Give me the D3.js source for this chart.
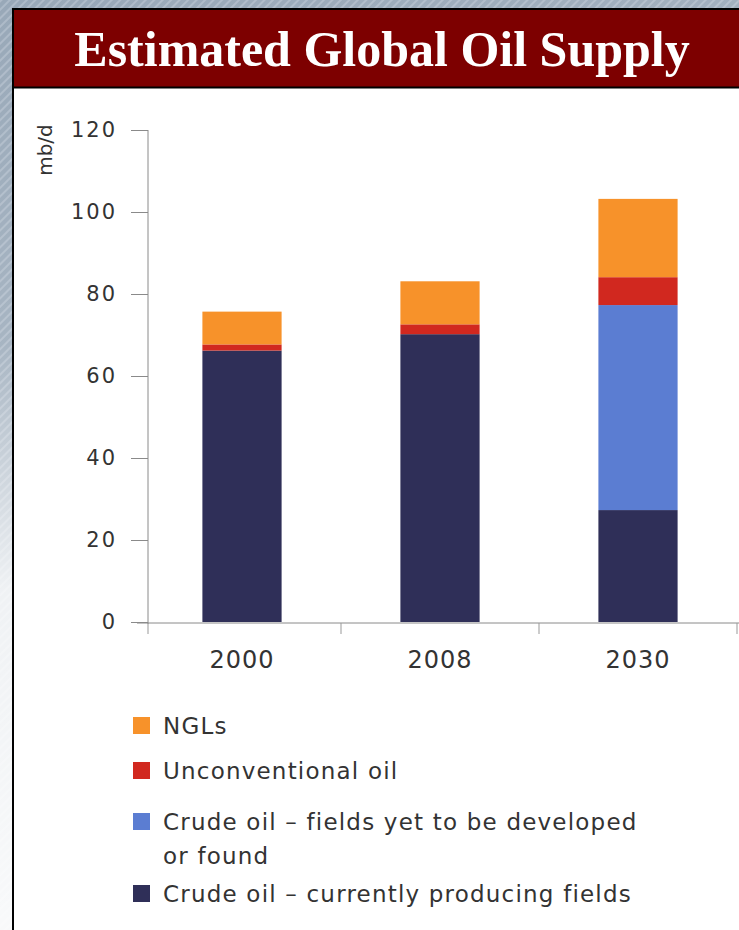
<!DOCTYPE html>
<html>
<head>
<meta charset="utf-8">
<script src="https://cdn.jsdelivr.net/npm/d3@7"></script>
<style>
  html, body { margin: 0; padding: 0; background: #fff; }
  svg { display: block; }
</style>
</head>
<body>
<div id="chart"></div>
<script>
// Chart data (mb/d)
const years = ['2000', '2008', '2030'];
const seriesNames = ['Crude oil \u2013 currently producing fields', 'Crude oil \u2013 fields yet to be developed or found', 'Unconventional oil', 'NGLs'];
const currentFields = [66.2, 70.2, 27.3];
const futureFields = [0, 0, 50.0];
const unconventional = [1.5, 2.4, 6.8];
const ngls = [8.0, 10.5, 19.1];
const yTicks = [0, 20, 40, 60, 80, 100, 120];
const colors = ['#2f2f58', '#5b7dd2', '#d1281f', '#f7922a'];

// legend order from top to bottom
const legendItems = [
    { key: 3, lines: ['NGLs'] },
    { key: 2, lines: ['Unconventional oil'] },
    { key: 1, lines: ['Crude oil \u2013 fields yet to be developed', 'or found'] },
    { key: 0, lines: ['Crude oil \u2013 currently producing fields'] },
];

const W = 739, H = 930;
const sans = '"DejaVu Sans", sans-serif';

const svg = d3.select('#chart').append('svg')
    .attr('width', W)
    .attr('height', H);

// background: striped steel blue fading out
const defs = svg.append('defs');
const pat = defs.append('pattern')
    .attr('id', 'stripes')
    .attr('width', 6).attr('height', 6)
    .attr('patternUnits', 'userSpaceOnUse')
    .attr('patternTransform', 'rotate(45)');
pat.append('rect').attr('width', 6).attr('height', 6).attr('fill', '#98a8b8');
pat.append('rect').attr('width', 2).attr('height', 6).attr('fill', '#adbac8');

const grad = defs.append('linearGradient')
    .attr('id', 'fade')
    .attr('x1', 0).attr('y1', 0).attr('x2', 0.25).attr('y2', 1);
grad.append('stop').attr('offset', '0%').attr('stop-color', '#fff').attr('stop-opacity', 0);
grad.append('stop').attr('offset', '35%').attr('stop-color', '#fff').attr('stop-opacity', 0.15);
grad.append('stop').attr('offset', '60%').attr('stop-color', '#fff').attr('stop-opacity', 0.85);
grad.append('stop').attr('offset', '100%').attr('stop-color', '#fff').attr('stop-opacity', 0.95);

svg.append('rect').attr('width', W).attr('height', H).attr('fill', 'url(#stripes)');
svg.append('rect').attr('width', W).attr('height', H).attr('fill', 'url(#fade)');

// panel with black frame
svg.append('rect')
    .attr('x', 13).attr('y', 9)
    .attr('width', W).attr('height', H)
    .attr('fill', '#fff')
    .attr('stroke', '#000')
    .attr('stroke-width', 2);

// title bar
svg.append('rect')
    .attr('x', 14).attr('y', 10)
    .attr('width', W).attr('height', 77)
    .attr('fill', '#7d0000');
svg.append('line')
    .attr('x1', 14).attr('x2', W)
    .attr('y1', 87.5).attr('y2', 87.5)
    .attr('stroke', '#000').attr('stroke-width', 2);

svg.append('text')
    .attr('x', 382).attr('y', 66)
    .attr('text-anchor', 'middle')
    .attr('font-family', '"Liberation Serif", "DejaVu Serif", serif')
    .attr('font-weight', 'bold')
    .attr('font-size', 50)
    .attr('fill', '#fff')
    .text('Estimated Global Oil Supply');

// scales
const x = d3.scaleBand()
    .domain(years)
    .range([143, 737])
    .paddingInner(0.6)
    .paddingOuter(0.3);

const y = d3.scaleLinear()
    .domain([0, 120])
    .range([622, 130]);

// stacked data
const table = years.map((yr, i) => ({
    year: yr,
    s0: currentFields[i],
    s1: futureFields[i],
    s2: unconventional[i],
    s3: ngls[i],
}));
const stack = d3.stack().keys(['s0', 's1', 's2', 's3']);
const layers = stack(table);

const g = svg.append('g');

g.selectAll('g.layer')
    .data(layers)
    .enter().append('g')
    .attr('class', 'layer')
    .attr('fill', (d, i) => colors[i])
    .selectAll('rect')
    .data(d => d)
    .enter().append('rect')
    .attr('x', d => x(d.data.year))
    .attr('width', x.bandwidth())
    .attr('y', d => y(d[1]))
    .attr('height', d => y(d[0]) - y(d[1]));

// y axis
const yAxis = svg.append('g')
    .attr('transform', 'translate(148,0)')
    .call(d3.axisLeft(y).tickValues(yTicks).tickSize(17).tickPadding(14));
yAxis.select('.domain').attr('stroke', '#8a8a8a').attr('d', `M0,${y(120)}V${y(0) + 2}`);
yAxis.selectAll('.tick line').attr('stroke', '#8a8a8a');
yAxis.selectAll('.tick text')
    .attr('font-family', sans)
    .attr('font-size', 21)
    .attr('letter-spacing', 2)
    .attr('fill', '#333');

svg.append('text')
    .attr('transform', 'translate(52,150) rotate(-90)')
    .attr('text-anchor', 'middle')
    .attr('font-family', sans)
    .attr('font-size', 20)
    .attr('fill', '#333')
    .text('mb/d');

// x axis: boundary ticks between the categories
const xAxisY = y(0) + 1;
svg.append('line')
    .attr('x1', 137).attr('x2', W)
    .attr('y1', xAxisY).attr('y2', xAxisY)
    .attr('stroke', '#8a8a8a');

const bounds = [148].concat(years.map(yr => x(yr) + x.bandwidth() + x.step() * x.paddingInner() / 2));
svg.selectAll('line.xtick')
    .data(bounds)
    .enter().append('line')
    .attr('class', 'xtick')
    .attr('x1', d => d).attr('x2', d => d)
    .attr('y1', xAxisY).attr('y2', xAxisY + 11)
    .attr('stroke', '#999');

svg.selectAll('text.xlabel')
    .data(years)
    .enter().append('text')
    .attr('class', 'xlabel')
    .attr('x', d => x(d) + x.bandwidth() / 2)
    .attr('y', 668)
    .attr('text-anchor', 'middle')
    .attr('font-family', sans)
    .attr('font-size', 24)
    .attr('letter-spacing', 1)
    .attr('fill', '#333')
    .text(d => d);

// legend
const legendRows = [725, 770, 821, 893];
const legend = svg.append('g');
legendItems.forEach((item, i) => {
    const ly = legendRows[i];
    legend.append('rect')
        .attr('x', 133).attr('y', ly - 8)
        .attr('width', 17).attr('height', 17)
        .attr('fill', colors[item.key]);
    const t = legend.append('text')
        .attr('x', 163).attr('y', ly + 9)
        .attr('font-family', sans)
        .attr('font-size', 23)
        .attr('letter-spacing', 1.2)
        .attr('fill', '#333');
    item.lines.forEach((line, j) => {
        t.append('tspan')
            .attr('x', 163)
            .attr('dy', j === 0 ? 0 : 34)
            .text(line);
    });
});
</script>
</body>
</html>
